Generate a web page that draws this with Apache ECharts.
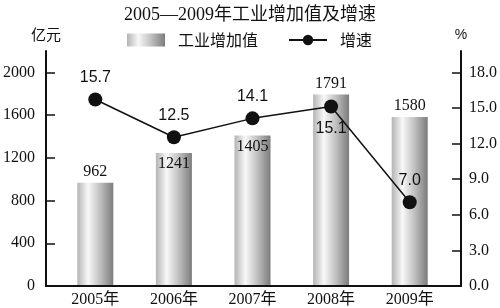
<!DOCTYPE html>
<html>
<head>
<meta charset="utf-8">
<script src="https://cdn.jsdelivr.net/npm/echarts@6/dist/echarts.min.js"></script>
<style>html,body{margin:0;padding:0;background:#fff}#c{width:500px;height:308px}</style>
</head>
<body>
<div id="c"></div>
<script>
var categories = ['2005年', '2006年', '2007年', '2008年', '2009年'];
var valueAdded = [962, 1241, 1405, 1791, 1580];
var growthRate = [15.7, 12.5, 14.1, 15.1, 7.0];
var leftTicks = [0, 400, 800, 1200, 1600, 2000];
var rightTicks = [0, 3, 6, 9, 12, 15, 18];

var barLabelPos = ['top', 'insideTop', 'insideTop', 'top', 'top'];
var lineLabelPos = ['top', 'top', 'top', 'bottom', 'top'];

var serif = '"Liberation Serif", "Times New Roman", "Noto Sans CJK SC", serif';
var cjk = '"Noto Sans CJK SC", sans-serif';
var sans = '"Liberation Sans", Arial, sans-serif';

var barGrad = new echarts.graphic.LinearGradient(0, 0, 1, 0, [
  {offset: 0, color: '#b4b4b4'},
  {offset: 0.3, color: '#f8f8f8'},
  {offset: 0.65, color: '#bdbdbd'},
  {offset: 1, color: '#7c7c7c'}
]);

var chart = echarts.init(document.getElementById('c'));
chart.setOption({
  animation: false,
  title: {
    text: '2005—2009年工业增加值及增速',
    left: 'center', top: 1,
    textStyle: {fontFamily: serif, fontSize: 18, fontWeight: 'normal', color: '#111'}
  },
  legend: {
    left: 122, top: 27, itemWidth: 38, itemHeight: 13, itemGap: 30,
    textStyle: {fontFamily: cjk, fontSize: 16, color: '#111', padding: [0, 0, 0, 8]},
    data: [
      {name: '工业增加值', icon: 'rect'},
      {name: '增速'}
    ]
  },
  grid: [
    {left: 45, right: 37, top: 51, bottom: 22},
    {left: 56, right: 51, top: 51, bottom: 22}
  ],
  xAxis: [
    {type: 'value', gridIndex: 0, min: 0, max: 1, axisLine: {show: true, onZero: false, lineStyle: {color: '#111', width: 2}},
      axisTick: {show: false}, axisLabel: {show: false}, splitLine: {show: false}},
    {type: 'category', gridIndex: 1, data: categories, boundaryGap: true,
      axisLine: {show: false}, axisTick: {show: false},
      axisLabel: {margin: 7, fontFamily: serif, fontSize: 16, color: '#111'}}
  ],
  yAxis: [
    {type: 'value', gridIndex: 0, position: 'left', min: 0, max: 2200,
      name: '亿元', nameLocation: 'end', nameGap: 9,
      nameTextStyle: {fontFamily: cjk, fontSize: 15, color: '#111', align: 'center'},
      axisLine: {show: true, lineStyle: {color: '#111', width: 2}},
      axisTick: {show: true, inside: true, length: 9, customValues: leftTicks, lineStyle: {color: '#111', width: 1.5}},
      axisLabel: {customValues: leftTicks, margin: 11, fontFamily: serif, fontSize: 16, color: '#111',
        formatter: function (v) { return String(v); }},
      splitLine: {show: false}},
    {type: 'value', gridIndex: 0, position: 'right', min: 0, max: 19.8,
      name: '%', nameLocation: 'end', nameGap: 9,
      nameTextStyle: {fontFamily: sans, fontSize: 14, color: '#111', align: 'center'},
      axisLine: {show: true, lineStyle: {color: '#111', width: 2}},
      axisTick: {show: true, inside: true, length: 9, customValues: rightTicks, lineStyle: {color: '#111', width: 1.5}},
      axisLabel: {customValues: rightTicks, margin: 8, fontFamily: serif, fontSize: 16, color: '#111',
        formatter: function (v) { return v.toFixed(1); }},
      splitLine: {show: false}},
    {type: 'value', gridIndex: 1, min: 0, max: 2200, show: false, splitLine: {show: false}},
    {type: 'value', gridIndex: 1, min: 0, max: 19.8, show: false, splitLine: {show: false}}
  ],
  series: [
    {
      name: '工业增加值', type: 'bar', xAxisIndex: 1, yAxisIndex: 2, barWidth: 36,
      itemStyle: {color: barGrad},
      label: {show: true, fontFamily: serif, fontSize: 16, color: '#111', distance: 3},
      data: valueAdded.map(function (v, i) {
        return {value: v, label: {position: barLabelPos[i]}};
      }),
      z: 2
    },
    {
      name: '增速', type: 'line', xAxisIndex: 1, yAxisIndex: 3,
      symbol: 'circle', symbolSize: 14,
      lineStyle: {color: '#111', width: 1.5},
      itemStyle: {color: '#111'},
      label: {show: true, fontFamily: sans, fontSize: 16, color: '#111', distance: 7,
        formatter: function (p) { return p.value.toFixed(1); }},
      data: growthRate.map(function (v, i) {
        return {value: v, label: {position: lineLabelPos[i]}};
      }),
      z: 5
    }
  ]
});
</script>
</body>
</html>
